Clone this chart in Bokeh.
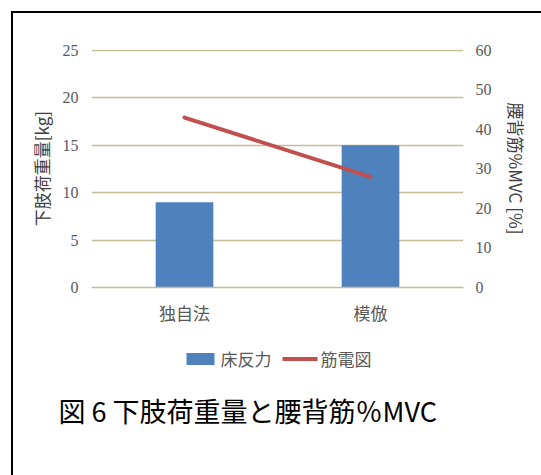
from bokeh.plotting import figure
from bokeh.layouts import column
from bokeh.models import (Range1d, FactorRange, LinearAxis, FixedTicker, Legend, LegendItem,
                          Title, Spacer, ColumnDataSource)
from bokeh.embed import file_html
from bokeh.resources import INLINE

# ---- data ----
categories = ["独自法", "模倣"]
floor_force = [9, 15]        # 床反力 [kg] (left axis)
emg_mvc = [43, 28]           # 筋電図 %MVC [%] (right axis)
left_ticks = [0, 5, 10, 15, 20, 25]
right_ticks = [0, 10, 20, 30, 40, 50, 60]
left_title = "下肢荷重量[kg]"
right_title = "腰背筋%MVC [%]"
caption = "図 6 下肢荷重量と腰背筋％MVC"
legend_labels = ["床反力", "筋電図"]

BLUE = "#4F81BD"
RED = "#C0504D"
GRID = "#C4BD97"
TICK = "#595959"
CJK = "Noto Sans CJK JP"
SERIF = "Liberation Serif"

src = ColumnDataSource(dict(cat=categories, force=floor_force, emg=emg_mvc))

W = 528
H1 = 327
H2 = 90
H3 = 45

# ---------------- chart ----------------
pad = 1.004  # tiny headroom so the top gridline is inside the frame
p = figure(width=W, height=H1, x_range=FactorRange(*categories, range_padding=0),
           y_range=Range1d(0, left_ticks[-1] * pad), output_backend="svg", toolbar_location=None,
           min_border_left=78, min_border_right=78, min_border_top=36, min_border_bottom=53)
p.extra_y_ranges = {"pct": Range1d(0, right_ticks[-1] * pad)}
p.outline_line_color = None
p.background_fill_color = "white"
p.border_fill_color = "white"

bars = p.vbar(x="cat", top="force", width=0.31, source=src, fill_color=BLUE, line_color=None)
line = p.line(x="cat", y="emg", source=src, y_range_name="pct", line_color=RED,
              line_width=4, line_cap="round")

p.xgrid.grid_line_color = None
p.ygrid.grid_line_color = GRID
p.ygrid.grid_line_width = 1.5
p.yaxis.ticker = FixedTicker(ticks=left_ticks)

def style_y(ax, standoff, label_standoff):
    ax.axis_line_color = None
    ax.major_tick_line_color = None
    ax.minor_tick_line_color = None
    ax.major_tick_out = 0
    ax.major_tick_in = 0
    ax.minor_tick_out = 0
    ax.major_label_standoff = standoff
    ax.major_label_text_font = SERIF
    ax.major_label_text_font_size = "16px"
    ax.major_label_text_color = TICK
    ax.axis_label_text_font = CJK
    ax.axis_label_text_font_size = "17px"
    ax.axis_label_text_font_style = "normal"
    ax.axis_label_text_color = "#404040"
    ax.axis_label_standoff = label_standoff

ly = p.yaxis[0]
ly.axis_label = left_title
style_y(ly, 13, 6)

ry = LinearAxis(y_range_name="pct", ticker=FixedTicker(ticks=right_ticks))
ry.axis_label = right_title
style_y(ry, 12, 9)
p.add_layout(ry, "right")

xa = p.xaxis[0]
xa.axis_line_color = GRID
xa.axis_line_width = 1.5
xa.major_tick_line_color = None
xa.minor_tick_line_color = None
xa.major_tick_out = 0
xa.major_tick_in = 0
xa.major_label_standoff = 12
xa.major_label_text_font = CJK
xa.major_label_text_font_size = "17px"
xa.major_label_text_color = TICK

# ---------------- legend + caption strip ----------------
q = figure(width=W, height=H2, x_range=p.x_range, y_range=p.y_range,
           x_axis_type=None, y_axis_type=None, output_backend="svg", toolbar_location=None,
           min_border_left=78, min_border_right=78, min_border_top=0, min_border_bottom=0)
q.outline_line_color = None
q.grid.visible = False
q.background_fill_color = "white"
q.border_fill_color = "white"

# hidden copies of the two series, used only as legend glyph sources
lb = q.vbar(x="cat", top="force", width=0.31, source=src, fill_color=BLUE, line_color=None,
            visible=False)
ll = q.line(x="cat", y="emg", source=src, line_color=RED, line_width=4, line_cap="round",
            visible=False)

legend = Legend(items=[LegendItem(label=legend_labels[0], renderers=[lb]),
                       LegendItem(label=legend_labels[1], renderers=[ll])],
                orientation="horizontal", location="top")
legend.padding = 0
legend.margin = 6
legend.spacing = 11
legend.label_standoff = 3
legend.glyph_width = 35
legend.glyph_height = 15
legend.label_height = 20
legend.label_text_font = CJK
legend.label_text_font_size = "17px"
legend.label_text_color = TICK
legend.border_line_color = None
legend.background_fill_alpha = 0
legend.inactive_fill_alpha = 0
q.add_layout(legend, "center")

cap = Title(text=caption, align="left", offset=-33, standoff=0, vertical_align="middle",
            text_font=CJK, text_font_size="27px", text_font_style="normal", text_color="black")
q.add_layout(cap, "below")

page = column(p, q, Spacer(width=W, height=H3), spacing=0,
              styles={"margin-left": "11px", "margin-top": "11px",
                      "border-left": "2px solid black", "border-top": "2px solid black"})

open("out.html", "w").write(file_html(page, INLINE))
